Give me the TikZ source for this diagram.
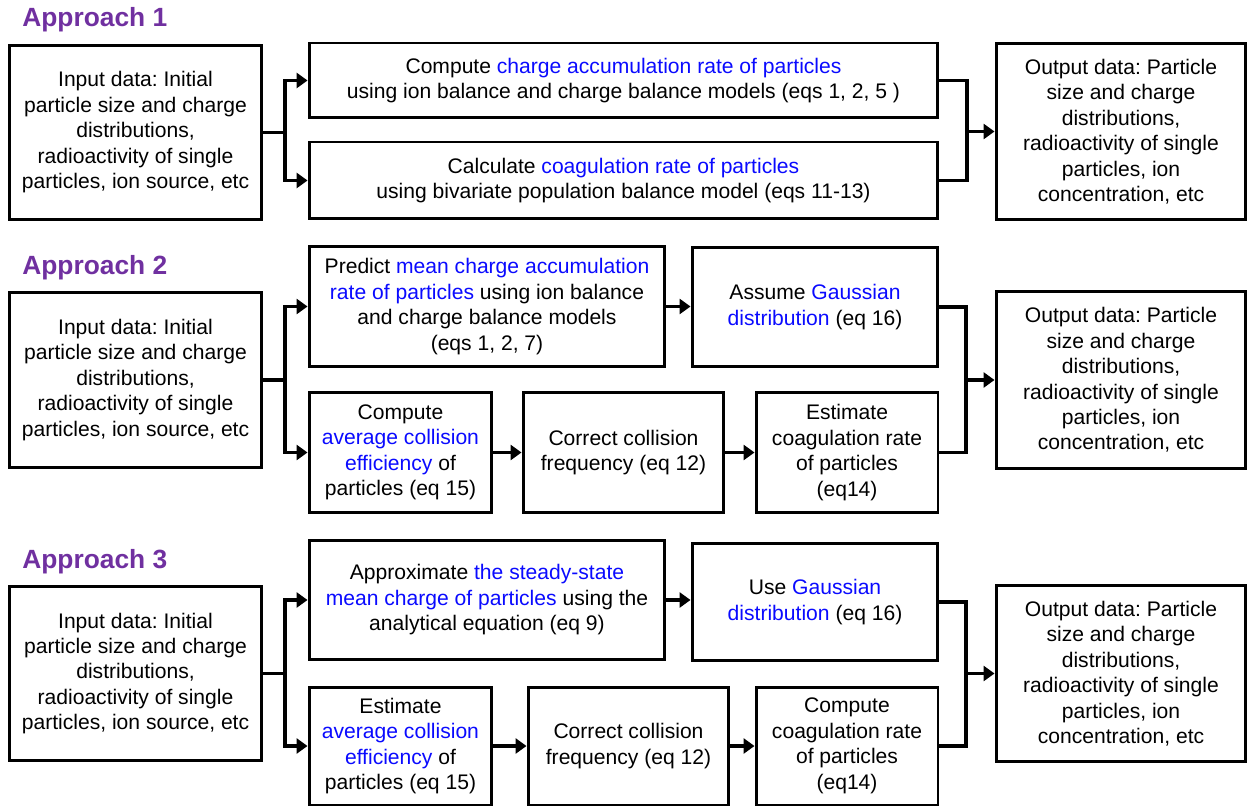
\documentclass[tikz,border=0pt]{standalone}
\usepackage{fontspec}
\setmainfont{Liberation Sans}
\frenchspacing
\definecolor{hlblue}{RGB}{10, 10, 255}
\definecolor{apppurple}{RGB}{112, 48, 160}
\usepackage{tikz}
\usetikzlibrary{arrows.meta, calc}
\newcommand{\hlb}[1]{\textcolor{hlblue}{#1}}
\tikzset{
    stepbox/.style={draw, rectangle, line width=1.7pt, inner sep=0pt, align=center, font=\fontsize{12}{14.5}\selectfont},
    inbox/.style={stepbox, minimum width=5.06cm, minimum height=3.5cm},
    outbox/.style={stepbox, minimum width=5.0cm, minimum height=3.54cm},
    approachtitle/.style={anchor=west, inner sep=0pt, font=\fontsize{15}{18}\selectfont\bfseries, text=apppurple},
    flowline/.style={line width=1.8pt},
    flowarrow/.style={flowline, -{Triangle[length=0.22cm, width=0.3cm]}},
}

\begin{document}
\begin{tikzpicture}[x=0.02cm, y=-0.02cm]
    \useasboundingbox (0,0) rectangle (1247,807);

    % Approach 1
    \node[approachtitle] (t1) at (22,20) {Approach 1};
    \node[inbox] (in1) at (135.5,132.5) {Input data: Initial\\particle size and charge\\distributions,\\radioactivity of single\\particles, ion source, etc};
    \node[stepbox, minimum width=12.58cm, minimum height=1.5cm] (a1) at (623.5,80.5) {Compute \hlb{charge accumulation rate of particles}\\using ion balance and charge balance models (eqs 1, 2, 5 )};
    \node[stepbox, minimum width=12.58cm, minimum height=1.54cm] (b1) at (623.5,180.5) {Calculate \hlb{coagulation rate of particles}\\using bivariate population balance model (eqs 11-13)};
    \node[outbox] (out1) at (1121,131.5) {Output data: Particle\\size and charge\\distributions,\\radioactivity of single\\particles, ion\\concentration, etc};
    \coordinate (s1) at (285,132.5);
    \coordinate (m1) at (967,131.5);
    \draw[flowline] (in1.east) -- (s1);
    \draw[flowarrow] (s1) |- (a1);
    \draw[flowarrow] (s1) |- (b1);
    \draw[flowline] (a1.east) -| (m1);
    \draw[flowline] (b1.east) -| (m1);
    \draw[flowarrow] (m1) -- (out1);

    % Approach 2
    \node[approachtitle] (t2) at (22,268) {Approach 2};
    \node[inbox] (in2) at (135.5,380) {Input data: Initial\\particle size and charge\\distributions,\\radioactivity of single\\particles, ion source, etc};
    \node[stepbox, minimum width=7.12cm, minimum height=2.42cm] (p2) at (487,306.5) {Predict \hlb{mean charge accumulation}\\\hlb{rate of particles} using ion balance\\and charge balance models\\(eqs 1, 2, 7)};
    \node[stepbox, minimum width=4.92cm, minimum height=2.4cm] (g2) at (815,307) {Assume \hlb{Gaussian}\\\hlb{distribution} (eq 16)};
    \node[stepbox, minimum width=3.66cm, minimum height=2.42cm] (c2) at (400.5,452.5) {Compute\\\hlb{average collision}\\\hlb{efficiency} of\\particles (eq 15)};
    \node[stepbox, minimum width=4.02cm, minimum height=2.42cm] (r2) at (623.5,452.5) {Correct collision\\frequency (eq 12)};
    \node[stepbox, minimum width=3.64cm, minimum height=2.42cm] (e2) at (847,452.5) {Estimate\\coagulation rate\\of particles\\(eq14)};
    \node[outbox] (out2) at (1121,380) {Output data: Particle\\size and charge\\distributions,\\radioactivity of single\\particles, ion\\concentration, etc};
    \coordinate (s2) at (285,380);
    \coordinate (m2) at (966,380);
    \draw[flowline] (in2.east) -- (s2);
    \draw[flowarrow] (s2) |- (p2);
    \draw[flowarrow] (s2) |- (c2);
    \draw[flowarrow] (p2.east) -- (p2.east -| g2.west);
    \draw[flowarrow] (c2) -- (r2);
    \draw[flowarrow] (r2) -- (e2);
    \draw[flowline] (g2.east) -| (m2);
    \draw[flowline] (e2.east) -| (m2);
    \draw[flowarrow] (m2) -- (out2);

    % Approach 3
    \node[approachtitle] (t3) at (22,562) {Approach 3};
    \node[inbox] (in3) at (135.5,673.5) {Input data: Initial\\particle size and charge\\distributions,\\radioactivity of single\\particles, ion source, etc};
    \node[stepbox, minimum width=7.12cm, minimum height=2.4cm] (p3) at (487,600) {Approximate \hlb{the steady-state}\\\hlb{mean charge of particles} using the\\analytical equation (eq 9)};
    \node[stepbox, minimum width=4.92cm, minimum height=2.36cm] (g3) at (815,602) {Use \hlb{Gaussian}\\\hlb{distribution} (eq 16)};
    \node[stepbox, minimum width=3.66cm, minimum height=2.36cm] (c3) at (400.5,746) {Estimate\\\hlb{average collision}\\\hlb{efficiency} of\\particles (eq 15)};
    \node[stepbox, minimum width=4.02cm, minimum height=2.36cm] (r3) at (628.5,746) {Correct collision\\frequency (eq 12)};
    \node[stepbox, minimum width=3.64cm, minimum height=2.36cm] (e3) at (847,746) {Compute\\coagulation rate\\of particles\\(eq14)};
    \node[outbox] (out3) at (1121,673.5) {Output data: Particle\\size and charge\\distributions,\\radioactivity of single\\particles, ion\\concentration, etc};
    \coordinate (s3) at (285,673.5);
    \coordinate (m3) at (966,673.5);
    \draw[flowline] (in3.east) -- (s3);
    \draw[flowarrow] (s3) |- (p3);
    \draw[flowarrow] (s3) |- (c3);
    \draw[flowarrow] (p3.east) -- (p3.east -| g3.west);
    \draw[flowarrow] (c3) -- (r3);
    \draw[flowarrow] (r3) -- (e3);
    \draw[flowline] (g3.east) -| (m3);
    \draw[flowline] (e3.east) -| (m3);
    \draw[flowarrow] (m3) -- (out3);
\end{tikzpicture}
\end{document}
